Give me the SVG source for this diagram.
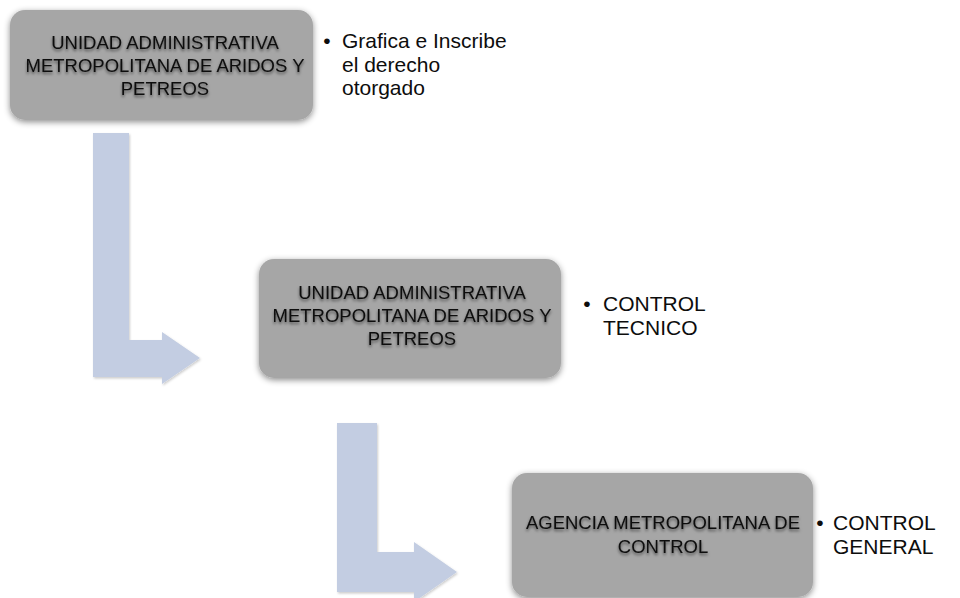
<svg xmlns="http://www.w3.org/2000/svg" width="960" height="598" viewBox="0 0 960 598">
<defs>
<filter id="boxShadow" x="-10%" y="-10%" width="120%" height="130%">
<feDropShadow dx="0" dy="2" stdDeviation="3" flood-color="#000" flood-opacity="0.45"/>
</filter>
<filter id="arrowShadow" x="-10%" y="-10%" width="120%" height="120%">
<feDropShadow dx="1" dy="1.5" stdDeviation="1" flood-color="#000" flood-opacity="0.2"/>
</filter>
<filter id="textShadow" x="-5%" y="-20%" width="110%" height="160%">
<feDropShadow dx="0" dy="2" stdDeviation="1.6" flood-color="#000" flood-opacity="0.55"/>
</filter>
</defs>
<style>
.box { fill: #a6a6a6; filter: url(#boxShadow); }
.arrow { fill: #c3cde2; filter: url(#arrowShadow); }
.boxText { font-family: "Liberation Sans", Arial, sans-serif; font-size: 18.5px; fill: #0d0d0d; text-anchor: middle; filter: url(#textShadow); }
.side { font-family: "Liberation Sans", Arial, sans-serif; font-size: 21px; fill: #0d0d0d; }
.bullet { font-family: "Liberation Sans", Arial, sans-serif; font-size: 21px; fill: #0d0d0d; text-anchor: middle; }
</style>
<rect width="960" height="598" fill="#ffffff"/>
<g id="connectors">
<polygon class="arrow" points="93,133 129,133 129,340 162,340 162,332 200,358 162,384 162,377 93,377"/>
<polygon class="arrow" points="337,423 377,423 377,552 414,552 414,542 457,572 414,602 414,592 337,592"/>
</g>
<g id="node1">
<rect class="box" x="10" y="10" width="303" height="110" rx="15" ry="15"/>
<text class="boxText" x="165" y="49">UNIDAD ADMINISTRATIVA</text>
<text class="boxText" x="165" y="72">METROPOLITANA DE ARIDOS Y</text>
<text class="boxText" x="165" y="95">PETREOS</text>
<text class="bullet" x="327" y="48">•</text>
<text class="side" x="342" y="48">Grafica e Inscribe</text>
<text class="side" x="342" y="72">el derecho</text>
<text class="side" x="342" y="95">otorgado</text>
</g>
<g id="node2">
<rect class="box" x="259" y="259" width="302" height="119" rx="15" ry="15"/>
<text class="boxText" x="412" y="299">UNIDAD ADMINISTRATIVA</text>
<text class="boxText" x="412" y="322">METROPOLITANA DE ARIDOS Y</text>
<text class="boxText" x="412" y="345">PETREOS</text>
<text class="bullet" x="587" y="311">•</text>
<text class="side" x="603" y="311">CONTROL</text>
<text class="side" x="603" y="335">TECNICO</text>
</g>
<g id="node3">
<rect class="box" x="512" y="473" width="301" height="124" rx="15" ry="15"/>
<text class="boxText" x="663" y="529">AGENCIA METROPOLITANA DE</text>
<text class="boxText" x="663" y="553">CONTROL</text>
<text class="bullet" x="820" y="530">•</text>
<text class="side" x="833" y="530">CONTROL</text>
<text class="side" x="833" y="554">GENERAL</text>
</g>
</svg>
